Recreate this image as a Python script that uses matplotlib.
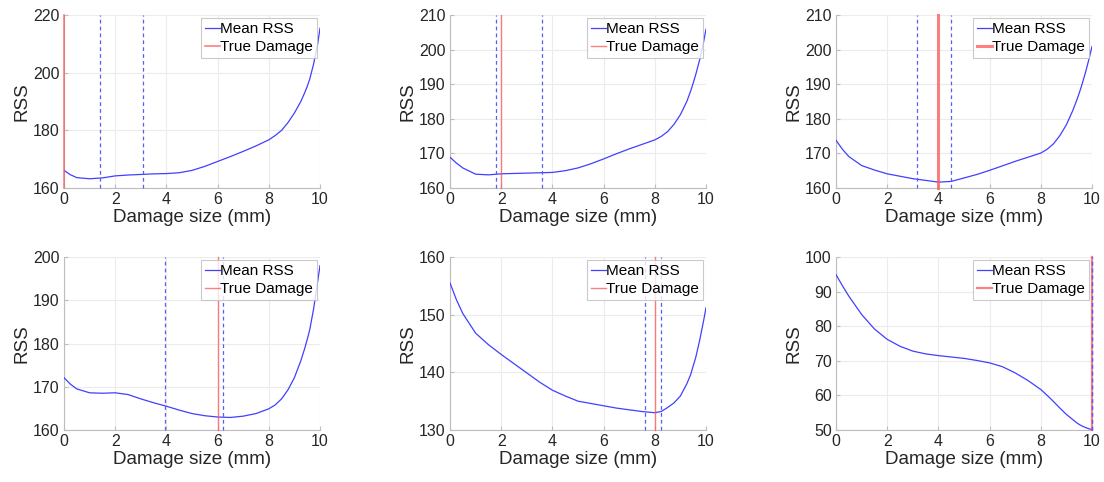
import numpy as np
import matplotlib.pyplot as plt

plt.rcParams['font.family'] = ['Liberation Sans', 'DejaVu Sans']

# damage size grid (mm) and mean RSS
x = [0, 0.25, 0.5, 1, 1.5, 2, 2.5, 3, 3.5, 4, 4.5, 5, 5.5, 6, 6.5, 7, 7.5,
     8, 8.25, 8.5, 8.75, 9, 9.25, 9.4, 9.5, 9.6, 9.75, 9.9, 10]

rss1 = [166.1, 164.6, 163.6, 163.2, 163.5, 164.2, 164.5, 164.7, 164.9, 165.0, 165.3, 166.1, 167.5, 169.2,
        170.9, 172.7, 174.6, 176.7, 178.2, 180.0, 182.7, 186.0, 190.0, 193.0, 195.2, 197.8, 203.0, 209.5, 215.4]
rss2 = [168.9, 167.2, 165.8, 164.0, 163.8, 164.1, 164.2, 164.3, 164.4, 164.5, 165.0, 165.8, 167.0, 168.4,
        169.9, 171.3, 172.6, 173.9, 174.9, 176.3, 178.4, 181.2, 185.0, 188.0, 190.3, 192.8, 197.0, 202.0, 205.9]
rss3 = [173.8, 171.2, 169.1, 166.5, 165.2, 164.1, 163.4, 162.7, 162.2, 161.7, 161.9, 162.9, 163.9, 165.1,
        166.4, 167.7, 168.9, 170.1, 171.2, 172.8, 175.2, 178.3, 182.4, 185.3, 187.4, 189.7, 193.5, 197.8, 200.9]
rss4 = [172.1, 170.6, 169.5, 168.6, 168.5, 168.6, 168.2, 167.2, 166.3, 165.5, 164.6, 163.8, 163.3, 163.0,
        162.9, 163.2, 163.8, 164.9, 165.8, 167.2, 169.3, 172.1, 176.0, 178.8, 180.9, 183.2, 188.0, 194.0, 198.0]
rss5 = [155.5, 152.6, 150.2, 146.8, 144.8, 143.1, 141.5, 139.9, 138.3, 136.9, 135.9, 135.0, 134.6, 134.2,
        133.8, 133.5, 133.2, 133.0, 133.2, 133.9, 134.7, 135.9, 138.0, 139.6, 141.1, 142.6, 145.5, 148.8, 151.2]
rss6 = [94.9, 91.7, 88.7, 83.4, 79.2, 76.2, 74.2, 72.8, 72.0, 71.5, 71.1, 70.7, 70.1, 69.4,
        68.3, 66.5, 64.3, 61.7, 60.0, 58.2, 56.3, 54.5, 53.0, 52.1, 51.6, 51.2, 50.7, 50.3, 50.2]

series = [rss1, rss2, rss3, rss4, rss5, rss6]
true_damage = [0, 2, 4, 6, 8, 10]
bounds = [(1.4, 3.1), (1.8, 3.6), (3.15, 4.5), (3.95, 6.2), (7.6, 8.25), (10, 10)]
ylims = [(160, 220), (160, 210), (160, 210), (160, 200), (130, 160), (50, 100)]
yticks = [[160, 180, 200, 220], [160, 170, 180, 190, 200, 210], [160, 170, 180, 190, 200, 210],
          [160, 170, 180, 190, 200], [130, 140, 150, 160], [50, 60, 70, 80, 90, 100]]
red_lw = [1.2, 1.0, 2.2, 1.0, 1.0, 1.6]

fig = plt.figure(figsize=(11.04, 4.82), dpi=100)
lefts = [64, 450, 836]
tops = [15, 257]
w, h = 256, 173

for i in range(6):
    r, c = divmod(i, 3)
    ax = fig.add_axes([lefts[c] / 1104, 1 - (tops[r] + h) / 482, w / 1104, h / 482])
    ax.plot(x, series[i], color='#4040ff', lw=0.9, label='Mean RSS', zorder=3)
    ax.axvline(true_damage[i], color='#ff5555', alpha=0.75, lw=red_lw[i], label='True Damage',
               zorder=4, clip_on=False)
    for b in bounds[i]:
        ax.axvline(b, color='#5a5aff', lw=0.9, ls=(0, (3, 2.5)), zorder=5, clip_on=False)
    ax.set_xlim(0, 10)
    ax.set_ylim(*ylims[i])
    ax.set_xticks([0, 2, 4, 6, 8, 10])
    ax.set_yticks(yticks[i])
    ax.grid(True, color='#ececec', lw=0.8)
    ax.set_axisbelow(True)
    for s in ['top', 'right']:
        ax.spines[s].set_visible(False)
    for s in ['left', 'bottom']:
        ax.spines[s].set_color('#bdbdbd')
    ax.tick_params(direction='in', length=3, color='#bdbdbd', labelsize=11.5, labelcolor='#262626', pad=3)
    ax.set_xlabel('Damage size (mm)', fontsize=13.5, color='#262626', labelpad=1)
    ax.set_ylabel('RSS', fontsize=13.5, color='#262626', labelpad=2)
    leg = ax.legend(loc='upper right', fontsize=11, frameon=True, fancybox=False, handlelength=1.0,
                    handletextpad=0.0, borderpad=0.25, labelspacing=0.3, borderaxespad=0.2)
    leg.get_frame().set_edgecolor('#bdbdbd')
    leg.get_frame().set_linewidth(0.8)
    leg.set_zorder(6)

fig.savefig('out.png', dpi=100)
